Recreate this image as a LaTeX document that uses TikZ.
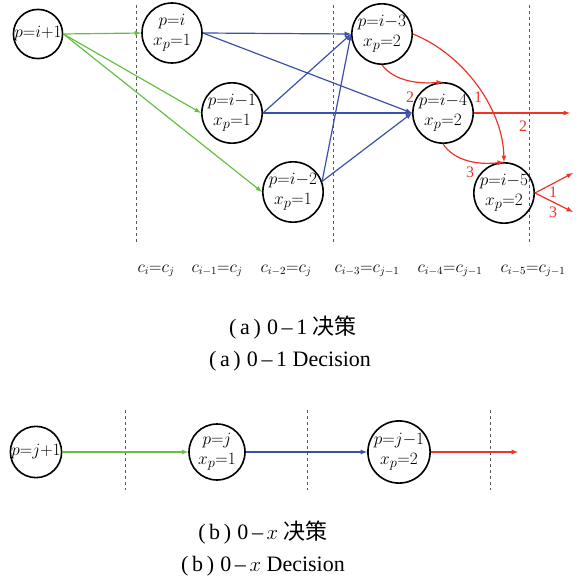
\documentclass[tikz,border=0pt]{standalone}
\usepackage{fontspec}
\setmainfont{Liberation Serif}
\newfontfamily\cjk{Noto Sans CJK SC}
\usepackage{tikz}
\usetikzlibrary{positioning}
\usepackage{xcolor}
\definecolor{grn}{RGB}{105,190,70}
\definecolor{blu}{RGB}{60,80,170}
\definecolor{rd}{RGB}{240,50,40}

\begin{document}
\begin{tikzpicture}[x=1pt,y=-1pt,>=latex,
  state/.style={draw,line width=1.6pt,circle,minimum size=60pt,inner sep=0pt,align=center,
    font=\fontsize{19}{20}\selectfont},
  start/.style={state,minimum size=48pt},
  gline/.style={->,line width=1.2pt,grn},
  bline/.style={->,line width=1.2pt,blu},
  rline/.style={->,line width=1.2pt,rd},
  rlab/.style={rd,font=\fontsize{16}{16}\selectfont},
  sep/.style={dashed,gray!70!black},
  clab/.style={font=\fontsize{16}{16}\selectfont},
  captext/.style={font=\fontsize{22}{22}\selectfont}]
\useasboundingbox (0,0) rectangle (581,585);

% (a) 0-1
\draw[sep] (136,5)--(136,245);
\draw[sep] (333,5)--(333,245);
\draw[sep] (529,5)--(529,245);

\node[start] (a0) at (38,34) {$p{=}i{+}1$};
\node[state] (a1) at (172,33) {$p{=}i$\\$x_p{=}1$};
\node[state] (a2) at (232,113) {$p{=}i{-}1$\\$x_p{=}1$};
\node[state] (a3) at (293,192) {$p{=}i{-}2$\\$x_p{=}1$};
\node[state] (a4) at (382,34) {$p{=}i{-}3$\\$x_p{=}2$};
\node[state] (a5) at (443,113) {$p{=}i{-}4$\\$x_p{=}2$};
\node[state] (a6) at (504,193) {$p{=}i{-}5$\\$x_p{=}2$};

\draw[gline] (a0.east) -- (a1.west);
\draw[gline] (a0.east) -- (a2.west);
\draw[gline] (a0.east) -- (a3.west);

\draw[bline] (a1.east) -- (a4.west);
\draw[bline] (a1.east) -- (a5.west);
\draw[bline] (a2.east) -- (a4.west);
\draw[bline] (a2.east) -- (a5.west);
\draw[bline] (a3.20) -- (a4.west);
\draw[bline] (a3.20) -- (a5.west);

\coordinate (o1) at (570,113);
\coordinate (o2) at (573,173);
\coordinate (o3) at (573,212);
\draw[rline] (a4.east) .. controls (465,55) and (503,110) .. (a6.north);
\draw[rline] (a4.south) .. controls (395,82) and (420,84) .. (a5.north);
\draw[rline] (a5.south) .. controls (455,162) and (480,165) .. (a6.north);
\draw[rline] (a5.east) -- (o1);
\draw[rline] (a6.east) -- (o2);
\draw[rline] (a6.east) -- (o3);

\node[rlab] at (478,97) {1};
\node[rlab] at (410,97) {2};
\node[rlab] at (523,126) {2};
\node[rlab] at (470,172) {3};
\node[rlab] at (553,192) {1};
\node[rlab] at (553,212) {3};

\node[clab] at (156,271) {$c_i{=}c_j$};
\node[clab] at (217,271) {$c_{i-1}{=}c_j$};
\node[clab] at (286,271) {$c_{i-2}{=}c_j$};
\node[clab] at (367,271) {$c_{i-3}{=}c_{j-1}$};
\node[clab] at (450,271) {$c_{i-4}{=}c_{j-1}$};
\node[clab] at (533,271) {$c_{i-5}{=}c_{j-1}$};

\node[captext] at (293,328) {(\,a\,)\;0\,--\,1 {\cjk 决策}};
\node[captext] at (290,361) {(\,a\,)\;0\,--\,1 Decision};

% (b) 0-x
\draw[sep] (125,410)--(125,490);
\draw[sep] (307,410)--(307,490);
\draw[sep] (490,410)--(490,490);

\node[start] (b0) at (36,452) {$p{=}j{+}1$};
\node[state,minimum size=56pt] (b1) at (217,452) {$p{=}j$\\$x_p{=}1$};
\node[state,minimum size=56pt] (b2) at (399,452) {$p{=}j{-}1$\\$x_p{=}2$};
\coordinate (b3) at (518,452);

\draw[gline] (b0) -- (b1);
\draw[bline] (b1) -- (b2);
\draw[rline] (b2) -- (b3);

\node[captext] at (263,533) {(\,b\,)\;0\,--\,$x$ {\cjk 决策}};
\node[captext] at (263,566) {(\,b\,)\;0\,--\,$x$ Decision};
\end{tikzpicture}
\end{document}
